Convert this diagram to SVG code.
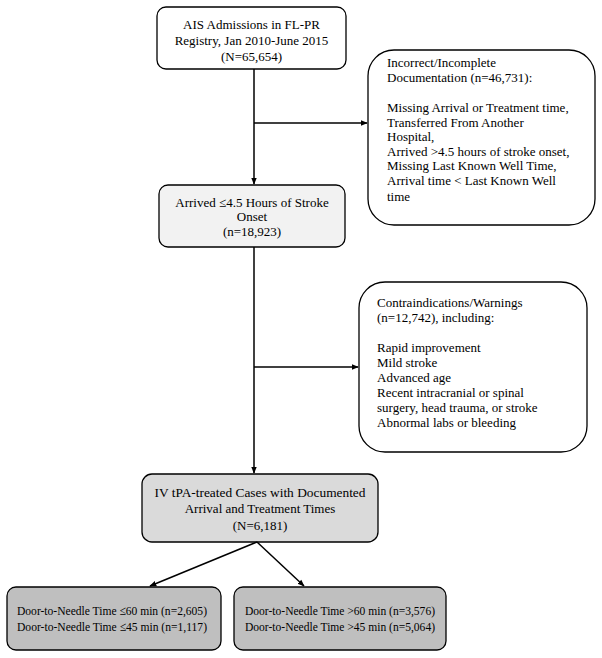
<svg xmlns="http://www.w3.org/2000/svg" width="602" height="658" viewBox="0 0 602 658">
<defs>
<marker id="ah" viewBox="0 0 10 10" refX="9" refY="5" markerWidth="7" markerHeight="7" orient="auto" markerUnits="userSpaceOnUse">
<path d="M0,1 L10,5 L0,9 z" fill="#000"/>
</marker>
</defs>
<style>
.box{stroke:#000;stroke-width:1.3}
text{font-family:"Liberation Serif","Times New Roman",serif;font-size:13px;fill:#000}
.c{text-anchor:middle}
.ln{stroke:#000;stroke-width:1.5;fill:none}
</style>
<rect width="602" height="658" fill="#fff"/>
<g id="n1">
<rect class="box" x="157" y="7" width="189" height="62" rx="9" fill="#fff"/>
<text class="c" x="251.5" y="29">AIS Admissions in FL-PR</text>
<text class="c" x="251.5" y="45">Registry, Jan 2010-June 2015</text>
<text class="c" x="251.5" y="61">(N=65,654)</text>
</g>
<g id="n2">
<rect class="box" x="368" y="50" width="227" height="175" rx="26" fill="#fff"/>
<text x="387" y="67">Incorrect/Incomplete</text>
<text x="387" y="82">Documentation (n=46,731):</text>
<text x="387" y="112">Missing Arrival or Treatment time,</text>
<text x="387" y="126.5">Transferred From Another</text>
<text x="387" y="141">Hospital,</text>
<text x="387" y="155.5">Arrived &gt;4.5 hours of stroke onset,</text>
<text x="387" y="170">Missing Last Known Well Time,</text>
<text x="387" y="185">Arrival time &lt; Last Known Well</text>
<text x="387" y="200.5">time</text>
</g>
<g id="n3">
<rect class="box" x="159" y="185" width="186" height="62" rx="9" fill="#f2f2f2"/>
<text class="c" x="252" y="207">Arrived ≤4.5 Hours of Stroke</text>
<text class="c" x="252" y="221">Onset</text>
<text class="c" x="252" y="236">(n=18,923)</text>
</g>
<g id="n4">
<rect class="box" x="359" y="282" width="228" height="170" rx="26" fill="#fff"/>
<text x="377" y="307">Contraindications/Warnings</text>
<text x="377" y="322">(n=12,742), including:</text>
<text x="377" y="352">Rapid improvement</text>
<text x="377" y="367">Mild stroke</text>
<text x="377" y="382">Advanced age</text>
<text x="377" y="397">Recent intracranial or spinal</text>
<text x="377" y="412">surgery, head trauma, or stroke</text>
<text x="377" y="427">Abnormal labs or bleeding</text>
</g>
<g id="n5">
<rect class="box" x="142" y="474" width="236" height="68" rx="10" fill="#dadada"/>
<text class="c" x="260" y="497" textLength="211" lengthAdjust="spacingAndGlyphs">IV tPA-treated Cases with Documented</text>
<text class="c" x="260" y="513">Arrival and Treatment Times</text>
<text class="c" x="260" y="530">(N=6,181)</text>
</g>
<g id="n6">
<rect class="box" x="7" y="587" width="214" height="63" rx="9" fill="#bfbfbf"/>
<text x="17" y="615" textLength="190" lengthAdjust="spacingAndGlyphs">Door-to-Needle Time ≤60 min (n=2,605)</text>
<text x="17" y="631" textLength="190" lengthAdjust="spacingAndGlyphs">Door-to-Needle Time ≤45 min (n=1,117)</text>
</g>
<g id="n7">
<rect class="box" x="234" y="587" width="212" height="63" rx="9" fill="#bfbfbf"/>
<text x="245" y="615" textLength="190" lengthAdjust="spacingAndGlyphs">Door-to-Needle Time &gt;60 min (n=3,576)</text>
<text x="245" y="631" textLength="190" lengthAdjust="spacingAndGlyphs">Door-to-Needle Time &gt;45 min (n=5,064)</text>
</g>
<g id="connectors">
<line class="ln" x1="254" y1="69" x2="254" y2="184" marker-end="url(#ah)"/>
<line class="ln" x1="254" y1="123" x2="367" y2="123" marker-end="url(#ah)"/>
<line class="ln" x1="254" y1="247" x2="254" y2="473" marker-end="url(#ah)"/>
<line class="ln" x1="254" y1="367" x2="358" y2="367" marker-end="url(#ah)"/>
<line class="ln" x1="257" y1="542" x2="150" y2="586" marker-end="url(#ah)"/>
<line class="ln" x1="257" y1="542" x2="304" y2="586" marker-end="url(#ah)"/>
</g>
</svg>
